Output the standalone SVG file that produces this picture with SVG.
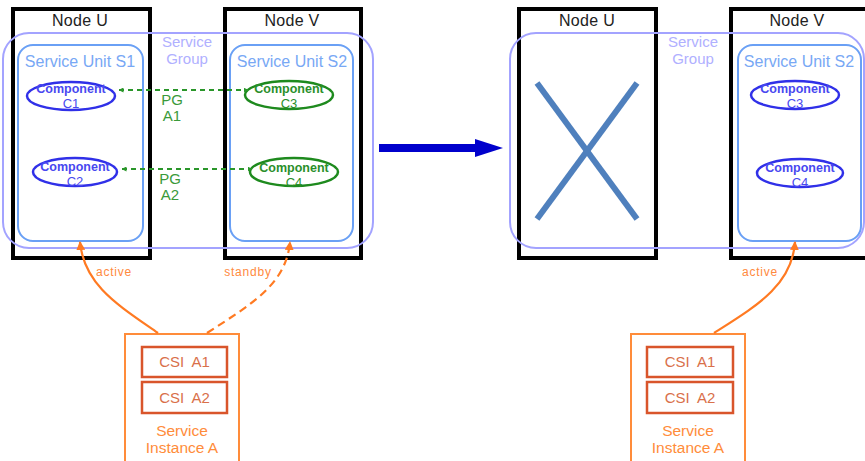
<svg xmlns="http://www.w3.org/2000/svg" width="865" height="461" viewBox="0 0 865 461">
<style>
text{font-family:"Liberation Sans",Arial,sans-serif;text-anchor:middle}
.node{fill:#fff;stroke:#000;stroke-width:4}
.nlabel{font-size:16px;fill:#222;letter-spacing:0.3px}
.sg{fill:none;stroke:#a3a3ff;stroke-width:2}
.sgt{font-size:15px;fill:#b0b0ff}
.su{fill:none;stroke:#6aa0f5;stroke-width:2}
.sut{font-size:16px;fill:#78a8f5}
.cb{fill:#fff;stroke:#3030e8;stroke-width:2.5}
.cbt{font-size:12.5px;font-weight:bold;fill:#4848f0}
.cbt2{font-size:13px;fill:#4848f0}
.cg{fill:#fff;stroke:#1e8a1e;stroke-width:2.5}
.cgt{font-size:12.5px;font-weight:bold;fill:#2a8f2a}
.cgt2{font-size:13px;fill:#2a8f2a}
.pg{stroke:#2a962a;stroke-width:1.8;stroke-dasharray:5,4;fill:none}
.pgt{font-size:15px;fill:#3a9a3a}
.or{stroke:#ff7a22;stroke-width:2.2;fill:none}
.ort{font-size:12px;fill:#ff8a40;letter-spacing:0.8px}
.si{fill:#fff;stroke:#ff8c3a;stroke-width:2}
.csi{fill:#fff;stroke:#d9552b;stroke-width:2.5}
.csit{font-size:15px;fill:#d9704a;word-spacing:4px}
.sit{font-size:15.5px;fill:#ff8c3a}
.x{stroke:#4f80bd;stroke-width:6}
</style>
<defs>
<marker id="ag" viewBox="0 0 10 10" refX="9" refY="5" markerWidth="5" markerHeight="5" orient="auto-start-reverse" markerUnits="userSpaceOnUse"><path d="M0,0 L10,5 L0,10 z" fill="#2a962a"/></marker>
<marker id="ao" viewBox="0 0 10 10" refX="9" refY="5" markerWidth="9" markerHeight="9" orient="auto" markerUnits="userSpaceOnUse"><path d="M0,0 L10,5 L0,10 z" fill="#ff7a22"/></marker>
</defs>

<!-- LEFT SIDE -->
<g id="nodeU1"><rect class="node" x="13" y="9" width="137" height="249"/><text class="nlabel" x="80" y="26">Node U</text></g>
<g id="nodeV1"><rect class="node" x="225" y="9" width="136" height="249"/><text class="nlabel" x="292" y="26">Node V</text></g>
<g id="sg1"><rect class="sg" x="3" y="33" width="370" height="215" rx="26"/><text class="sgt" x="187" y="47">Service</text><text class="sgt" x="187" y="64">Group</text></g>
<g id="su1"><rect class="su" x="18" y="45" width="125" height="196" rx="15"/><text class="sut" x="80" y="67">Service Unit S1</text></g>
<g id="su2"><rect class="su" x="230" y="45" width="123" height="196" rx="15"/><text class="sut" x="292" y="67">Service Unit S2</text></g>
<g id="c1"><ellipse class="cb" cx="71" cy="96" rx="44" ry="14"/><text class="cbt" x="71" y="93">Component</text><text class="cbt2" x="71" y="108">C1</text></g>
<g id="c2"><ellipse class="cb" cx="75" cy="172" rx="42" ry="14"/><text class="cbt" x="75" y="171">Component</text><text class="cbt2" x="75" y="186">C2</text></g>
<g id="c3"><ellipse class="cg" cx="289" cy="95" rx="44" ry="14"/><text class="cgt" x="289" y="93">Component</text><text class="cgt2" x="289" y="108">C3</text></g>
<g id="c4"><ellipse class="cg" cx="294" cy="172" rx="44" ry="14"/><text class="cgt" x="294" y="172">Component</text><text class="cgt2" x="294" y="187">C4</text></g>
<g id="si1"><rect class="si" x="125" y="334" width="114" height="140"/>
<rect class="csi" x="142" y="347" width="85" height="30"/><text class="csit" x="184.5" y="367">CSI A1</text>
<rect class="csi" x="142" y="382" width="85" height="31"/><text class="csit" x="184.5" y="403">CSI A2</text>
<text class="sit" x="182" y="436">Service</text><text class="sit" x="182" y="453">Instance A</text></g>

<!-- RIGHT SIDE -->
<g id="nodeU2"><rect class="node" x="519" y="9" width="137" height="249"/><text class="nlabel" x="587" y="26">Node U</text></g>
<g id="nodeV2"><rect class="node" x="731" y="9" width="137" height="249"/><text class="nlabel" x="797" y="26">Node V</text></g>
<g id="sg2"><rect class="sg" x="510" y="33" width="354" height="215" rx="26"/><text class="sgt" x="693" y="47">Service</text><text class="sgt" x="693" y="64">Group</text></g>
<g id="fail"><line class="x" x1="537" y1="83" x2="637" y2="219"/><line class="x" x1="637" y1="83" x2="537" y2="219"/></g>
<g id="su3"><rect class="su" x="738" y="45" width="123" height="196" rx="15"/><text class="sut" x="799" y="67">Service Unit S2</text></g>
<g id="c3b"><ellipse class="cb" cx="795" cy="95" rx="44" ry="14"/><text class="cbt" x="795" y="93">Component</text><text class="cbt2" x="795" y="108">C3</text></g>
<g id="c4b"><ellipse class="cb" cx="800" cy="173" rx="43" ry="14"/><text class="cbt" x="800" y="172">Component</text><text class="cbt2" x="800" y="187">C4</text></g>
<g id="si2"><rect class="si" x="631" y="334" width="114" height="140"/>
<rect class="csi" x="647" y="347" width="86" height="30"/><text class="csit" x="690" y="367">CSI A1</text>
<rect class="csi" x="647" y="382" width="86" height="31"/><text class="csit" x="690" y="403">CSI A2</text>
<text class="sit" x="688" y="436">Service</text><text class="sit" x="688" y="453">Instance A</text></g>

<!-- CONNECTORS -->
<g id="connectors">
<line class="pg" x1="119" y1="90" x2="248" y2="90" marker-start="url(#ag)" marker-end="url(#ag)"/>
<text class="pgt" x="172" y="105">PG</text><text class="pgt" x="172" y="121">A1</text>
<line class="pg" x1="122" y1="169" x2="252" y2="169" marker-start="url(#ag)" marker-end="url(#ag)"/>
<text class="pgt" x="170" y="184">PG</text><text class="pgt" x="170" y="200">A2</text>
<path class="or" d="M158,333 C118,305 84,285 80,242" marker-end="url(#ao)"/>
<text class="ort" x="114" y="276">active</text>
<path class="or" d="M207,333 C250,305 286,285 290,242" stroke-dasharray="8,5" marker-end="url(#ao)"/>
<text class="ort" x="248" y="276">standby</text>
<path class="or" d="M714,333 C758,305 792,285 795,242" marker-end="url(#ao)"/>
<text class="ort" x="760" y="276">active</text>
<g id="transition"><rect x="379" y="144" width="98" height="8" fill="#0000cc"/><path d="M475,139 L503,148 L475,157 z" fill="#0000cc"/></g>
</g>
</svg>
